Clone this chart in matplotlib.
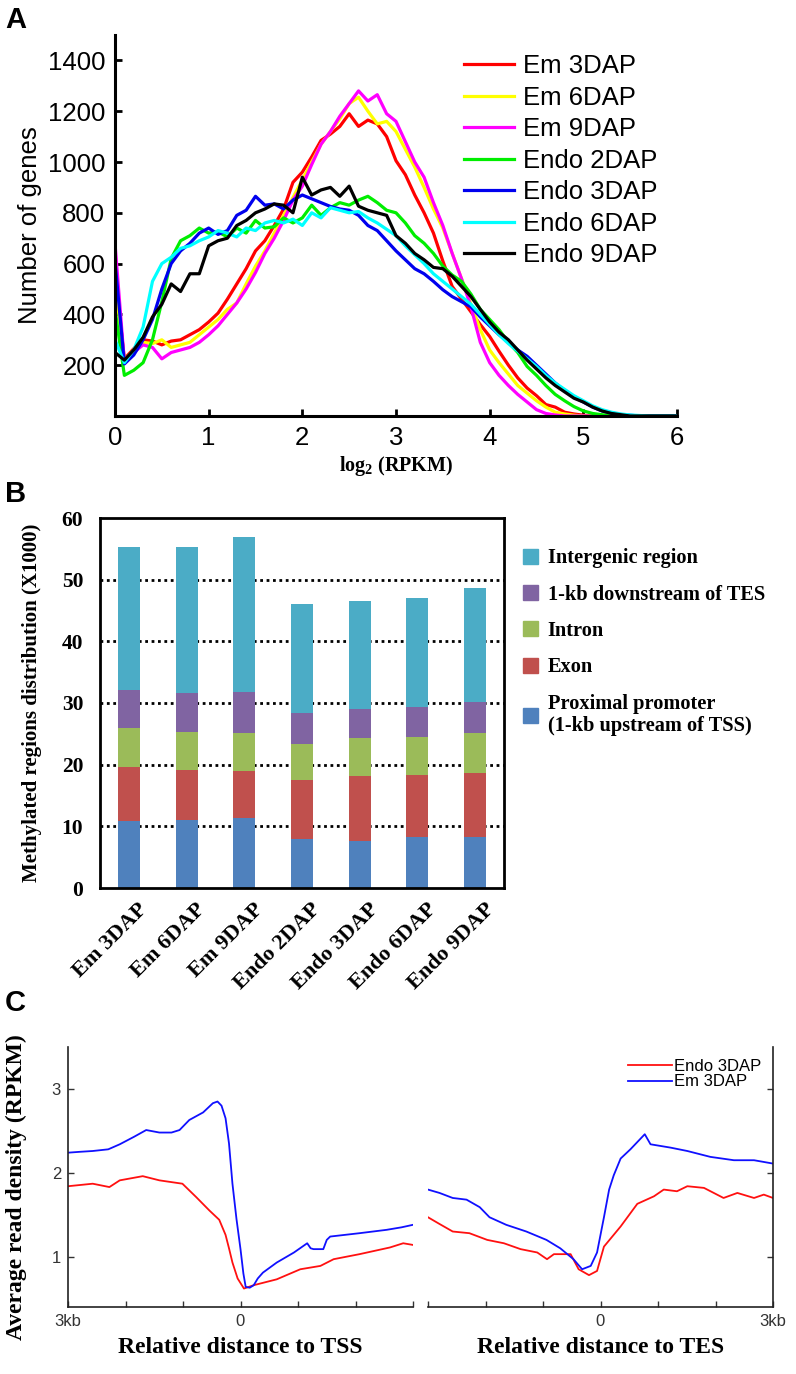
import numpy as np
import matplotlib
matplotlib.use('Agg')
import matplotlib.pyplot as plt
from matplotlib.patches import Patch
from matplotlib.transforms import ScaledTranslation

plt.rcParams['mathtext.default'] = 'regular'

# ---- panel A: histogram-like curves of log2(RPKM) ----
rpkm_x = [round(0.1 * i, 1) for i in range(61)]

em_3dap = [560, 225, 265, 300, 295, 280, 295, 300, 320, 340, 370, 405, 460, 520, 580, 650, 690, 750, 815, 920,
           960, 1020, 1085, 1110, 1140, 1190, 1140, 1165, 1150, 1100, 1005, 950, 870, 800, 720, 610, 510, 460, 410, 360,
           313, 255, 200, 150, 110, 80, 45, 35, 15, 8, 3, 0, 0, 0, 0, 0, 0, 0, 0, 0, 0]
em_6dap = [520, 220, 260, 290, 285, 300, 270, 280, 290, 320, 350, 380, 420, 445, 520, 590, 650, 720, 790, 860,
           930, 1000, 1070, 1120, 1170, 1230, 1255, 1200, 1150, 1160, 1120, 1050, 980, 900, 815, 740, 640, 540, 440, 340,
           260, 210, 165, 120, 90, 60, 35, 15, 8, 3, 0, 0, 0, 0, 0, 0, 0, 0, 0, 0, 0]
em_9dap = [680, 210, 250, 280, 270, 225, 250, 260, 270, 290, 320, 355, 400, 445, 500, 565, 640, 700, 770, 850,
           905, 990, 1070, 1120, 1180, 1230, 1280, 1240, 1265, 1190, 1160, 1080, 1000, 940, 840, 750, 640, 540, 430, 290,
           210, 160, 120, 85, 55, 25, 10, 4, 0, 0, 0, 0, 0, 0, 0, 0, 0, 0, 0, 0, 0]
endo_2dap = [420, 160, 180, 210, 300, 450, 620, 690, 710, 740, 720, 725, 705, 740, 720, 770, 740, 745, 780, 760,
             780, 830, 790, 820, 840, 830, 850, 865, 840, 810, 800, 760, 710, 680, 640, 590, 555, 530, 480, 420,
             380, 340, 290, 250, 195, 160, 120, 85, 60, 37, 20, 10, 5, 2, 0, 0, 0, 0, 0, 0, 0]
endo_3dap = [610, 205, 240, 300, 380, 500, 600, 650, 680, 720, 740, 715, 730, 790, 810, 865, 830, 835, 815, 850,
             870, 855, 840, 825, 815, 810, 790, 750, 730, 690, 650, 615, 580, 560, 530, 497, 470, 450, 430, 390,
             355, 320, 290, 260, 235, 200, 165, 130, 100, 75, 55, 35, 20, 12, 6, 3, 0, 0, 0, 0, 0]
endo_6dap = [300, 210, 260, 350, 530, 600, 625, 660, 670, 690, 705, 730, 720, 705, 740, 730, 760, 770, 760, 775,
             750, 800, 780, 820, 810, 800, 805, 780, 760, 735, 710, 670, 635, 600, 560, 530, 500, 470, 440, 400,
             360, 320, 285, 255, 225, 195, 160, 130, 105, 80, 60, 40, 25, 15, 8, 4, 2, 0, 0, 0, 0]
endo_9dap = [250, 220, 260, 310, 390, 440, 520, 490, 560, 560, 670, 690, 700, 750, 770, 800, 815, 835, 830, 800,
             940, 870, 890, 900, 865, 905, 826, 810, 800, 790, 710, 680, 640, 615, 585, 580, 550, 510, 470, 420,
             370, 330, 300, 260, 220, 185, 150, 120, 95, 70, 55, 35, 20, 10, 5, 0, 0, 0, 0, 0, 0]

curve_names = ['Em 3DAP', 'Em 6DAP', 'Em 9DAP', 'Endo 2DAP', 'Endo 3DAP', 'Endo 6DAP', 'Endo 9DAP']
curve_colors = ['#ff0000', '#ffff00', '#ff00ff', '#00ee00', '#0000ee', '#00ffff', '#000000']

# ---- panel B: stacked bars (x1000) ----
samples = ['Em 3DAP', 'Em 6DAP', 'Em 9DAP', 'Endo 2DAP', 'Endo 3DAP', 'Endo 6DAP', 'Endo 9DAP']
promoter = [10.8, 11.1, 11.3, 8.0, 7.7, 8.2, 8.2]
exon = [8.9, 8.1, 7.6, 9.5, 10.4, 10.2, 10.4]
intron = [6.2, 6.1, 6.2, 5.9, 6.2, 6.1, 6.5]
tes_down = [6.2, 6.3, 6.7, 4.9, 4.8, 4.9, 5.1]
intergenic = [23.2, 23.7, 25.1, 17.7, 17.4, 17.7, 18.5]

# ---- panel C: read density around TSS / TES ----
tss_em_x = [-3, -2.8, -2.57, -2.3, -2.1, -1.85, -1.64, -1.41, -1.2, -1.06, -0.89, -0.65, -0.48, -0.4, -0.33, -0.26,
            -0.2, -0.14, -0.07, 0.0, 0.05, 0.09, 0.16, 0.23, 0.3, 0.39, 0.63, 0.93, 1.16, 1.22, 1.27, 1.44, 1.5, 1.56,
            2.07, 2.54, 2.8, 3.0]
tss_em_y = [2.24, 2.25, 2.26, 2.28, 2.34, 2.43, 2.51, 2.48, 2.48, 2.51, 2.63, 2.72, 2.83, 2.85, 2.80, 2.65,
            2.35, 1.87, 1.45, 1.09, 0.80, 0.64, 0.63, 0.66, 0.74, 0.81, 0.93, 1.05, 1.16, 1.10, 1.09, 1.09, 1.20, 1.24,
            1.28, 1.32, 1.35, 1.38]
tss_endo_x = [-3, -2.57, -2.28, -2.1, -1.7, -1.41, -1.01, -0.77, -0.54, -0.37, -0.26, -0.2, -0.14, -0.05, 0.06,
              0.23, 0.63, 1.04, 1.39, 1.62, 2.07, 2.6, 2.83, 3.0]
tss_endo_y = [1.84, 1.87, 1.83, 1.91, 1.96, 1.91, 1.87, 1.71, 1.55, 1.44, 1.26, 1.10, 0.93, 0.74, 0.62,
              0.66, 0.73, 0.85, 0.89, 0.97, 1.03, 1.11, 1.16, 1.14]
tes_em_x = [-3, -2.8, -2.57, -2.33, -2.1, -1.93, -1.64, -1.29, -0.94, -0.7, -0.47, -0.32, -0.17, -0.06, 0.06,
            0.15, 0.23, 0.35, 0.52, 0.77, 0.87, 1.22, 1.51, 1.91, 2.32, 2.67, 3.0]
tes_em_y = [1.80, 1.76, 1.70, 1.68, 1.59, 1.47, 1.38, 1.30, 1.20, 1.10, 0.97, 0.85, 0.89, 1.05, 1.47,
            1.80, 1.97, 2.17, 2.28, 2.46, 2.34, 2.30, 2.26, 2.19, 2.15, 2.15, 2.11]
tes_endo_x = [-3, -2.8, -2.57, -2.28, -1.97, -1.68, -1.39, -1.1, -0.93, -0.81, -0.52, -0.38, -0.2, -0.06, 0.06,
              0.35, 0.64, 0.93, 1.1, 1.33, 1.51, 1.8, 1.97, 2.14, 2.38, 2.67, 2.84, 3.0]
tes_endo_y = [1.47, 1.39, 1.30, 1.28, 1.20, 1.16, 1.09, 1.05, 0.97, 1.03, 1.03, 0.85, 0.78, 0.83, 1.12,
              1.36, 1.63, 1.72, 1.80, 1.78, 1.84, 1.82, 1.76, 1.70, 1.76, 1.70, 1.74, 1.70]

W, H = 796, 1374
fig = plt.figure(figsize=(W / 100, H / 100), dpi=100)


def box(l, t, r, b):
    return [l / W, 1 - b / H, (r - l) / W, (b - t) / H]


sans = 'Liberation Sans'
serif = 'Liberation Serif'

# ================= A =================
axA = fig.add_axes(box(115, 35, 677, 416))
ys = [em_3dap, em_6dap, em_9dap, endo_2dap, endo_3dap, endo_6dap, endo_9dap]
for yv, nm, c in zip(ys, curve_names, curve_colors):
    axA.plot(rpkm_x, yv, color=c, lw=2.3, label=nm)
axA.set_xlim(0, 6)
axA.set_ylim(0, 1500)
axA.set_yticks([200, 400, 600, 800, 1000, 1200, 1400])
axA.set_xticks(range(7))
for s in ['top', 'right']:
    axA.spines[s].set_visible(False)
for s in ['left', 'bottom']:
    axA.spines[s].set_linewidth(2.2)
axA.tick_params(direction='in', length=5, width=2, labelsize=18.5, pad=7)
for lab in axA.get_xticklabels() + axA.get_yticklabels():
    lab.set_family(sans)
axA.set_ylabel('Number of genes', fontsize=18.5, family=sans, labelpad=4)
axA.set_xlabel('log$_2$ (RPKM)', fontsize=14.5, family=serif, fontweight='bold', labelpad=3)
axA.legend(loc='upper left', bbox_to_anchor=(454 / W, 1 - 44 / H), bbox_transform=fig.transFigure,
           frameon=False, prop={'family': sans, 'size': 18.5}, handlelength=1.95, handletextpad=0.35,
           labelspacing=0.29, borderaxespad=0)

# ================= B =================
axB = fig.add_axes(box(100, 518, 504, 888))
pos = np.arange(len(samples))
seg_names = ['Proximal promoter\n(1-kb upstream of TSS)', 'Exon', 'Intron', '1-kb downstream of TES',
             'Intergenic region']
seg_vals = [promoter, exon, intron, tes_down, intergenic]
seg_colors = ['#4f81bd', '#c0504d', '#9bbb59', '#8064a2', '#4bacc6']
bottom = np.zeros(len(samples))
for vals, c in zip(seg_vals, seg_colors):
    axB.bar(pos, vals, 0.38, bottom=bottom, color=c, zorder=2)
    bottom += np.array(vals)
axB.set_xlim(-0.5, 6.5)
axB.set_ylim(0, 60)
axB.set_yticks(range(0, 61, 10))
for g in range(10, 60, 10):
    axB.axhline(g, color='black', lw=2, ls=(0, (1, 1.3)), zorder=1)
for s in axB.spines.values():
    s.set_linewidth(2)
axB.tick_params(length=0, pad=12)
axB.set_xticks(pos)
axB.set_xticklabels([])
lab_shift = axB.get_xaxis_transform() + ScaledTranslation(0.09, -0.11, fig.dpi_scale_trans)
for p, name in zip(pos, samples):
    axB.text(p, 0, name, transform=lab_shift, rotation=45, ha='right', va='top', rotation_mode='anchor',
             fontsize=16, family=serif, fontweight='bold')
for lab in axB.get_yticklabels():
    lab.set_family(serif)
    lab.set_fontweight('bold')
    lab.set_fontsize(15.5)
axB.set_ylabel('Methylated regions distribution (X1000)', fontsize=15, family=serif,
               fontweight='bold', labelpad=14)
handles = [Patch(color=c) for c in seg_colors][::-1]
axB.legend(handles, seg_names[::-1], loc='upper left', bbox_to_anchor=(515 / W, 1 - 540 / H),
           bbox_transform=fig.transFigure, frameon=False,
           prop={'family': serif, 'weight': 'bold', 'size': 14.7}, handlelength=0.75, handleheight=0.75,
           handletextpad=0.45, labelspacing=0.8, borderaxespad=0)

# ================= C =================
axL = fig.add_axes(box(68, 1047, 413, 1307))
axR = fig.add_axes(box(428, 1047, 773, 1307))
axL.plot(tss_endo_x, tss_endo_y, color='#ff1010', lw=1.3)
axL.plot(tss_em_x, tss_em_y, color='#1010ff', lw=1.3)
axR.plot(tes_endo_x, tes_endo_y, color='#ff1010', lw=1.3, label='Endo 3DAP')
axR.plot(tes_em_x, tes_em_y, color='#1010ff', lw=1.3, label='Em 3DAP')
for ax in (axL, axR):
    ax.set_xlim(-3, 3)
    ax.set_ylim(0.4, 3.5)
    ax.set_xticks(range(-3, 4))
    ax.set_yticks([1, 2, 3])
    ax.tick_params(direction='in', length=4, width=1, labelsize=12, colors='#333333', pad=5)
    ax.spines['top'].set_visible(False)
    for s in ax.spines.values():
        s.set_linewidth(1.2)
        s.set_color('#222222')
axL.spines['right'].set_visible(False)
axR.spines['left'].set_visible(False)
axL.set_xticklabels(['3kb', '', '', '0', '', '', ''], family=sans)
axR.set_xticklabels(['', '', '', '0', '', '', '3kb'], family=sans)
for lab in axL.get_yticklabels():
    lab.set_family(sans)
axR.yaxis.tick_right()
axR.tick_params(axis='y', labelright=False, direction='in')
axL.set_xlabel('Relative distance to TSS', fontsize=17, family=serif, fontweight='bold', labelpad=6)
axR.set_xlabel('Relative distance to TES', fontsize=17, family=serif, fontweight='bold', labelpad=6)
axL.set_ylabel('Average read density (RPKM)', fontsize=17, family=serif, fontweight='bold')
axL.yaxis.set_label_coords(-0.12, 0.46)
axR.legend(loc='upper right', bbox_to_anchor=(768 / W, 1 - 1052 / H), bbox_transform=fig.transFigure,
           frameon=False, prop={'family': sans, 'size': 12}, handlelength=2.6, handletextpad=0.15,
           labelspacing=0.05, borderaxespad=0)

# panel letters
for letter, yy in [('A', 20), ('B', 494), ('C', 1003)]:
    fig.text(5 / W, 1 - yy / H, letter, fontsize=21, fontweight='bold', family=sans, va='center')

fig.savefig('out.png', dpi=100)
